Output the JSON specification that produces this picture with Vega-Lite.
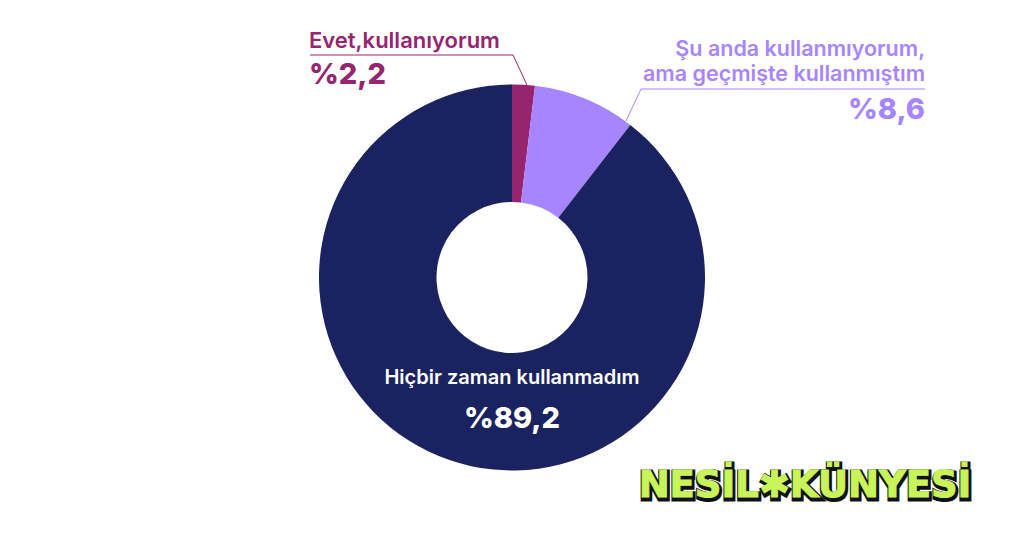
{"$schema":"https://vega.github.io/schema/vega-lite/v6.json","autosize":{"type":"fit","contains":"padding"},"width":1024,"height":555,"padding":0,"background":"white","view":{"stroke":null},
"data":{"values":[
{"answer":"Evet,kullanıyorum","pct":"%2,2","value":1.9,"rank":1},
{"answer":"Şu anda kullanmıyorum,","answer2":"ama geçmişte kullanmıştım","pct":"%8,6","value":8.6,"rank":2},
{"answer":"Hiçbir zaman kullanmadım","pct":"%89,2","value":89.5,"rank":3}]},
"config":{"axis":{"disable":true},"text":{"font":"Inter"}},
"resolve":{"scale":{"x":"shared","y":"shared"}},
"layer":[
{"mark":{"type":"arc","outerRadius":193,"innerRadius":75.5},"encoding":{"theta":{"field":"value","type":"quantitative","stack":true},"order":{"field":"rank"},"color":{"field":"answer","type":"nominal","legend":null,"scale":{"domain":["Evet,kullanıyorum","Şu anda kullanmıyorum,","Hiçbir zaman kullanmadım"],"range":["#96246F","#A685FF","#1A2360"]}}}},
{"data":{"values":[{"a":1}]},"mark":{"type":"rule","stroke":"#96246F","strokeWidth":1},"encoding":{"x":{"datum":310,"type":"quantitative","scale":{"domain":[0,1024],"nice":false,"zero":false},"axis":null},"x2":{"datum":513},"y":{"datum":55,"type":"quantitative","scale":{"domain":[555,0],"nice":false,"zero":false},"axis":null},"y2":{"datum":55}}},
{"data":{"values":[{"a":1}]},"mark":{"type":"rule","stroke":"#96246F","strokeWidth":1},"encoding":{"x":{"datum":513,"type":"quantitative"},"x2":{"datum":527},"y":{"datum":55,"type":"quantitative"},"y2":{"datum":85}}},
{"data":{"values":[{"a":1}]},"mark":{"type":"rule","stroke":"#A685FF","strokeWidth":1},"encoding":{"x":{"datum":641,"type":"quantitative"},"x2":{"datum":925},"y":{"datum":89,"type":"quantitative"},"y2":{"datum":89}}},
{"data":{"values":[{"a":1}]},"mark":{"type":"rule","stroke":"#A685FF","strokeWidth":1},"encoding":{"x":{"datum":641,"type":"quantitative"},"x2":{"datum":626},"y":{"datum":89,"type":"quantitative"},"y2":{"datum":121}}},
{"transform":[{"filter":"datum.rank==1"}],"mark":{"type":"text","align":"left","baseline":"alphabetic","fontSize":22,"fontWeight":600,"color":"#96246F"},"encoding":{"text":{"field":"answer"},"x":{"datum":309,"type":"quantitative"},"y":{"datum":48,"type":"quantitative"}}},
{"transform":[{"filter":"datum.rank==1"}],"mark":{"type":"text","align":"left","baseline":"alphabetic","fontSize":29,"fontWeight":800,"color":"#96246F"},"encoding":{"text":{"field":"pct"},"x":{"datum":309,"type":"quantitative"},"y":{"datum":84,"type":"quantitative"}}},
{"transform":[{"filter":"datum.rank==2"}],"mark":{"type":"text","align":"right","baseline":"alphabetic","fontSize":21.5,"fontWeight":600,"color":"#A685FF"},"encoding":{"text":{"field":"answer"},"x":{"datum":925,"type":"quantitative"},"y":{"datum":56,"type":"quantitative"}}},
{"transform":[{"filter":"datum.rank==2"}],"mark":{"type":"text","align":"right","baseline":"alphabetic","fontSize":21.5,"fontWeight":600,"color":"#A685FF"},"encoding":{"text":{"field":"answer2"},"x":{"datum":925,"type":"quantitative"},"y":{"datum":81,"type":"quantitative"}}},
{"transform":[{"filter":"datum.rank==2"}],"mark":{"type":"text","align":"right","baseline":"alphabetic","fontSize":29,"fontWeight":800,"color":"#A685FF"},"encoding":{"text":{"field":"pct"},"x":{"datum":925,"type":"quantitative"},"y":{"datum":119,"type":"quantitative"}}},
{"transform":[{"filter":"datum.rank==3"}],"mark":{"type":"text","align":"center","baseline":"alphabetic","fontSize":20,"fontWeight":600,"color":"white"},"encoding":{"text":{"field":"answer"},"x":{"datum":512,"type":"quantitative"},"y":{"datum":384,"type":"quantitative"}}},
{"transform":[{"filter":"datum.rank==3"}],"mark":{"type":"text","align":"center","baseline":"alphabetic","fontSize":29,"fontWeight":800,"color":"white"},"encoding":{"text":{"field":"pct"},"x":{"datum":512,"type":"quantitative"},"y":{"datum":428,"type":"quantitative"}}},
{"data":{"values":[{"logo":"NESİL✱KÜNYESİ"}]},"mark":{"type":"text","align":"center","baseline":"alphabetic","font":"DejaVu Sans","fontSize":37,"fontWeight":"bold","fill":"#111111","stroke":"#111111","strokeWidth":5,"dx":1,"dy":2},"encoding":{"text":{"field":"logo"},"x":{"datum":805,"type":"quantitative"},"y":{"datum":497,"type":"quantitative"}}},
{"data":{"values":[{"logo":"NESİL✱KÜNYESİ"}]},"mark":{"type":"text","align":"center","baseline":"alphabetic","font":"DejaVu Sans","fontSize":37,"fontWeight":"bold","fill":"#C8F45A","stroke":"#C8F45A","strokeWidth":1},"encoding":{"text":{"field":"logo"},"x":{"datum":805,"type":"quantitative"},"y":{"datum":497,"type":"quantitative"}}}
]}
